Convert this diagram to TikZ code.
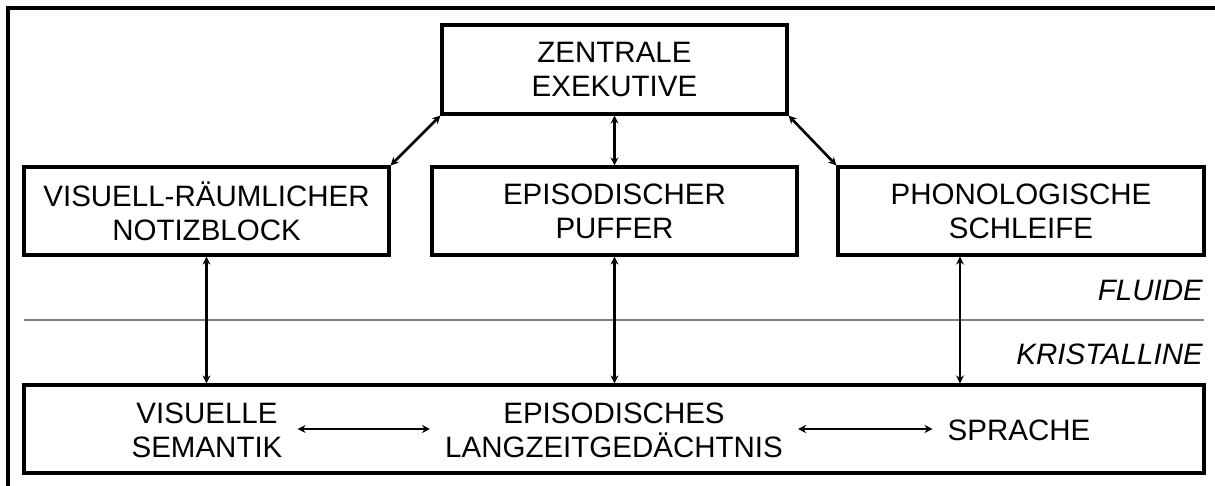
\documentclass[tikz,border=0pt]{standalone}
\usepackage{fontspec}
\setmainfont{Liberation Sans}
\usetikzlibrary{arrows.meta}
\begin{document}
\begin{tikzpicture}[x=1pt,y=-1pt,
  box/.style={draw,line width=3.2pt,rectangle,inner sep=0pt,align=center,
    font=\fontsize{29.5}{34}\selectfont},
  txt/.style={inner sep=0pt,align=center,font=\fontsize{29.5}{34}\selectfont},
  lbl/.style={inner sep=0pt,anchor=east,font=\fontsize{29.5}{34}\selectfont\itshape},
  conn/.style={line width=2.6pt,{Stealth[length=8pt,width=8pt]}-{Stealth[length=8pt,width=8pt]}}]
\useasboundingbox (0,0) rectangle (1215,486);
\draw[line width=3.2pt] (8,8) rectangle (1230,500);
% boxes
\node[box,minimum width=345pt,minimum height=89pt] (ze) at (614.5,69.5) {ZENTRALE\\EXEKUTIVE};
\node[box,minimum width=365pt,minimum height=88pt] (vis) at (206.5,211) {VISUELL-RÄUMLICHER\\NOTIZBLOCK};
\node[box,minimum width=365pt,minimum height=88pt] (epb) at (614.5,211) {EPISODISCHER\\PUFFER};
\node[box,minimum width=366pt,minimum height=88pt] (pho) at (1021,211) {PHONOLOGISCHE\\SCHLEIFE};
\node[box,minimum width=1180pt,minimum height=88pt] (ltm) at (614,429) {};
% divider
\coordinate (dl) at (24,320);
\coordinate (dr) at (1204,320);
\draw[line width=2.5pt,gray] (dl) -- (dr);
\node[lbl] (fl) at (1203,290) {FLUIDE};
\node[lbl] (kr) at (1203,354) {KRISTALLINE};
% texts in bottom box
\node[txt] (vs) at (207,430) {VISUELLE\\SEMANTIK};
\node[txt] (el) at (614,430) {EPISODISCHES\\LANGZEITGEDÄCHTNIS};
\node[txt] (sp) at (1019,430) {SPRACHE};
% connectors
\draw[conn] (ze.south west) -- (vis.north east);
\draw[conn] (ze.south east) -- (pho.north west);
\draw[conn] (ze.south) -- (epb.north);
\draw[conn] (vis.south) -- (vis.south |- ltm.north);
\draw[conn] (epb.south) -- (epb.south |- ltm.north);
\draw[conn] (pho.south -| 960,0) -- (ltm.north -| 960,0);
\draw[conn,shorten <=15pt,shorten >=15pt] (vs.east |- ltm.center) -- (el.west |- ltm.center);
\draw[conn,shorten <=15pt,shorten >=15pt] (el.east |- ltm.center) -- (sp.west |- ltm.center);
\end{tikzpicture}
\end{document}
